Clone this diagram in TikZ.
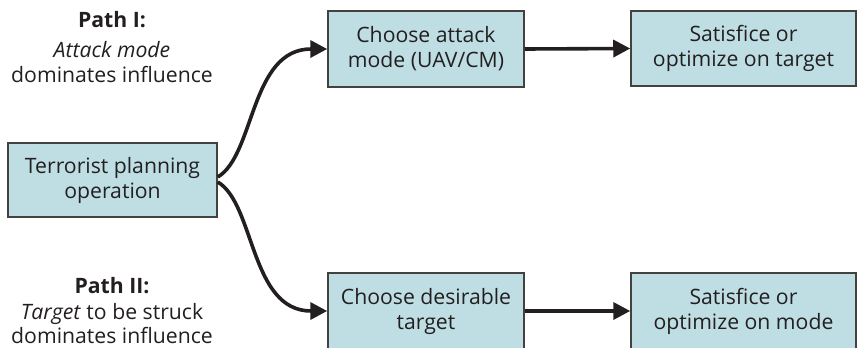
\documentclass[tikz,border=0pt]{standalone}
\usepackage{fontspec}
\setmainfont{Open Sans}
\usepackage{tikz}
\usetikzlibrary{arrows.meta,positioning}
\definecolor{boxblue}{RGB}{190,222,228}
\definecolor{inkgray}{RGB}{35,31,32}

\begin{document}
\begin{tikzpicture}[
    x=0.5pt, y=-0.5pt,
    font=\fontsize{10.6pt}{12.5pt}\selectfont, text=inkgray,
    stepbox/.style={draw=inkgray!85, fill=boxblue, line width=0.75pt, align=center, inner sep=0pt},
    pathlbl/.style={align=center, anchor=base, inner ysep=1pt},
    arrow/.style={-{Triangle[length=8.5pt, width=8.5pt]}, line width=1.8pt, draw=inkgray}
]
\useasboundingbox (0,0) rectangle (857,348);

% starting box
\node[stepbox, minimum width=104.5pt, minimum height=37pt] (ter) at (112.5,180) {Terrorist planning\\operation};

% Path I row
\node[stepbox, minimum width=98pt, minimum height=38pt] (att) at (426,49) {Choose attack\\mode (UAV/CM)};
\node[stepbox, minimum width=112.5pt, minimum height=37.5pt] (sat1) at (743.5,48.5) {Satisfice or\\optimize on target};

% Path II row
\node[stepbox, minimum width=98pt, minimum height=38pt] (des) at (426,311) {Choose desirable\\target};
\node[stepbox, minimum width=112.5pt, minimum height=38pt] (sat2) at (743.5,311) {Satisfice or\\optimize on mode};

% path labels
\node[pathlbl] (p1) at (112,27) {\bfseries Path I:};
\node[pathlbl] (p1a) at (112,57) {\itshape Attack mode};
\node[pathlbl] (p1b) at (112,83) {dominates influence};
\node[pathlbl] (p2) at (112,293) {\bfseries Path II:};
\node[pathlbl] (p2a) at (112,319) {\textit{Target} to be struck};
\node[pathlbl] (p2b) at (112,343) {dominates influence};

% connectors
\coordinate (t1) at ([yshift=1.5pt]ter.east);
\coordinate (t2) at ([yshift=-1pt]ter.east);
\draw[arrow] (t1) .. controls (255,155) and (250,49) .. (att.west);
\draw[arrow] (t2) .. controls (255,204) and (250,311) .. (des.west);
\draw[arrow] (att.east) -- (sat1.west);
\draw[arrow] (des.east) -- (sat2.west);

\end{tikzpicture}
\end{document}
